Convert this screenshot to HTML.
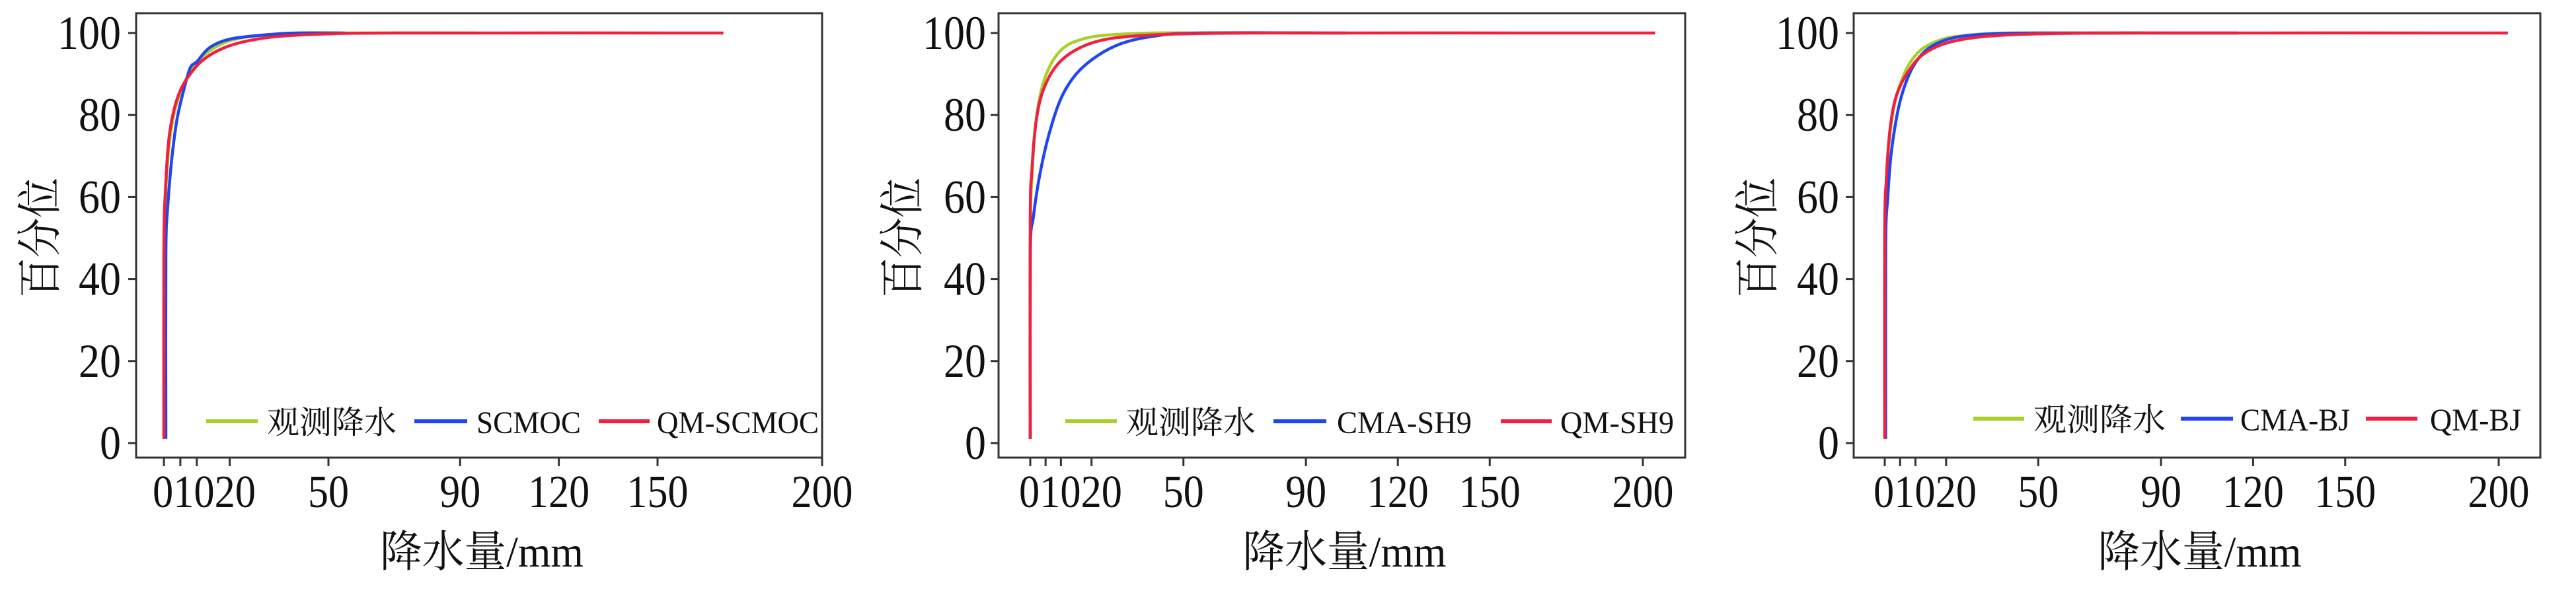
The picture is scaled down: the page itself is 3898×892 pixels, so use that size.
<!DOCTYPE html>
<html><head><meta charset="utf-8"><style>
html,body{margin:0;padding:0;background:#fff;width:3898px;height:892px;overflow:hidden}
text{font-family:"Liberation Serif","Noto Serif CJK SC","Noto Sans CJK SC",serif;fill:#111}
</style></head><body>
<svg id="s" width="3898" height="892" xmlns="http://www.w3.org/2000/svg"></svg>
<script>
const S=document.getElementById('s');let h='';
const Y0=671,Y100=50;const yy=p=>Y0+(Y100-Y0)*p/100;
const G='#a8cf2a',B='#2046f0',R='#f0203e';
const panels=[
 {L:206,Rt:1244,x0:248,u:4.98,lab:183,ly:638,
  leg:[[312,390,404,600,'观测降水'],[627,707,721,879,'SCMOC'],[906,983,994,1239,'QM-SCMOC']],
  curves:[
   [G,[[0,1],[0,44],[0.5,60],[1.5,72],[3,80],[5,85.5],[8,90.5],[12,94.5],[18,97.5],[25,99],[35,99.7],[50,100],[95,100]]],
   [B,[[0.6,1],[0.6,46],[1.2,58],[2.5,70],[4,79],[6,86],[8,91.5],[10,93],[14,96.5],[20,98.5],[30,99.5],[40,100],[55,100]]],
   [R,[[0,1],[0,48],[0.5,62],[1.5,74],[3,81],[5,86],[8,90],[12,93.5],[18,96.3],[25,98],[35,99.2],[50,99.8],[70,100],[170,100]]]]},
 {L:1511,Rt:2550,x0:1559,u:4.635,lab:1492,ly:638,
  leg:[[1612,1690,1704,1900,'观测降水'],[1927,2007,2023,2227,'CMA-SH9'],[2271,2348,2361,2533,'QM-SH9']],
  curves:[
   [G,[[0,1],[0,52],[0.5,64],[1.5,76],[3,84],[5,89.5],[8,94],[12,97],[18,98.7],[25,99.5],[40,100],[60,100]]],
   [B,[[0,1],[0,46],[1,55],[3,65],[6,75],[10,84],[15,90],[22,94.5],[30,97.5],[40,99.2],[55,100],[103,100]]],
   [R,[[0,1],[0,55],[0.5,66],[1.5,76],[3,83],[5,87.5],[8,91.5],[12,94.5],[18,97],[25,98.5],[35,99.3],[50,99.8],[80,100],[204,100]]]]},
 {L:2805,Rt:3844,x0:2852,u:4.645,lab:2783,ly:634,
  leg:[[2986,3063,3077,3277,'观测降水'],[3300,3379,3390,3556,'CMA-BJ'],[3580,3658,3677,3815,'QM-BJ']],
  curves:[
   [G,[[0,1],[0,50],[0.5,63],[1.5,74],[3,82],[5,87.5],[8,92.5],[12,96],[18,98.3],[25,99.3],[40,100],[80,100]]],
   [B,[[0.3,1],[0.3,48],[1,60],[2,70],[4,80],[6,86],[9,91.5],[13,95.5],[18,97.8],[25,99.2],[35,99.8],[50,100],[115,100]]],
   [R,[[0,1],[0,52],[0.5,64],[1.5,75],[3,82.5],[5,87],[8,91],[12,94.5],[18,97],[25,98.4],[35,99.3],[50,99.8],[80,100],[203,100]]]]}
];
function path(c,P){let d='';
  const pts=c.map(q=>[P.x0+q[0]*P.u,yy(q[1])]);
  d='M'+pts[0][0].toFixed(1)+' '+pts[0][1].toFixed(1);
  for(let i=0;i<pts.length-1;i++){const p0=pts[i-1]||pts[i],p1=pts[i],p2=pts[i+1],p3=pts[i+2]||p2;
   const c1=[p1[0]+(p2[0]-p0[0])/6,p1[1]+(p2[1]-p0[1])/6],c2=[p2[0]-(p3[0]-p1[0])/6,p2[1]-(p3[1]-p1[1])/6];
   d+=` C${c1[0].toFixed(1)} ${c1[1].toFixed(1)} ${c2[0].toFixed(1)} ${c2[1].toFixed(1)} ${p2[0].toFixed(1)} ${p2[1].toFixed(1)}`;}
  return d;}
for(const P of panels){
  for(const [col,c] of P.curves) h+=`<path d="${path(c,P)}" fill="none" stroke="${col}" stroke-width="4.5" stroke-linejoin="round"/>`;
  h+=`<rect x="${P.L}" y="20" width="${P.Rt-P.L}" height="673" fill="none" stroke="#333" stroke-width="3"/>`;
  for(let v=0;v<=100;v+=20){const y=yy(v);
    h+=`<line x1="${P.L-12}" x2="${P.L}" y1="${y}" y2="${y}" stroke="#333" stroke-width="3"/>`;
    const s=String(v);h+=`<text x="${P.lab}" y="${y+24}" font-size="72" text-anchor="end" textLength="${s.length*32}" lengthAdjust="spacingAndGlyphs">${s}</text>`;}
  for(const v of [0,5,10,20,50,90,120,150,200]){const x=P.x0+v*P.u;
    h+=`<line x1="${x}" x2="${x}" y1="693" y2="706" stroke="#333" stroke-width="3"/>`;}
  h+=`<text x="${P.x0-17}" y="768" font-size="70" textLength="156" lengthAdjust="spacingAndGlyphs">01020</text>`;
  for(const v of [50,90,120,150,200]){const s=String(v);
    h+=`<text x="${P.x0+v*P.u}" y="768" font-size="70" text-anchor="middle" textLength="${s.length*31}" lengthAdjust="spacingAndGlyphs">${s}</text>`;}
  const cx=(P.L+P.Rt)/2;
  h+=`<text x="${cx+4}" y="858" font-size="66" text-anchor="middle" textLength="308" lengthAdjust="spacingAndGlyphs">降水量/mm</text>`;
  h+=`<text transform="translate(${P.L-122},360) rotate(-90)" font-size="68" text-anchor="middle" textLength="182" lengthAdjust="spacingAndGlyphs">百分位</text>`;
  const cols=[G,B,R];
  P.leg.forEach((l,i)=>{h+=`<line x1="${l[0]}" x2="${l[1]}" y1="${P.ly}" y2="${P.ly}" stroke="${cols[i]}" stroke-width="6"/>`;
    h+=`<text x="${l[2]}" y="${P.ly+18}" font-size="48" textLength="${l[3]-l[2]}" lengthAdjust="spacingAndGlyphs">${l[4]}</text>`;});
}
S.innerHTML=h;
</script>
</body></html>
